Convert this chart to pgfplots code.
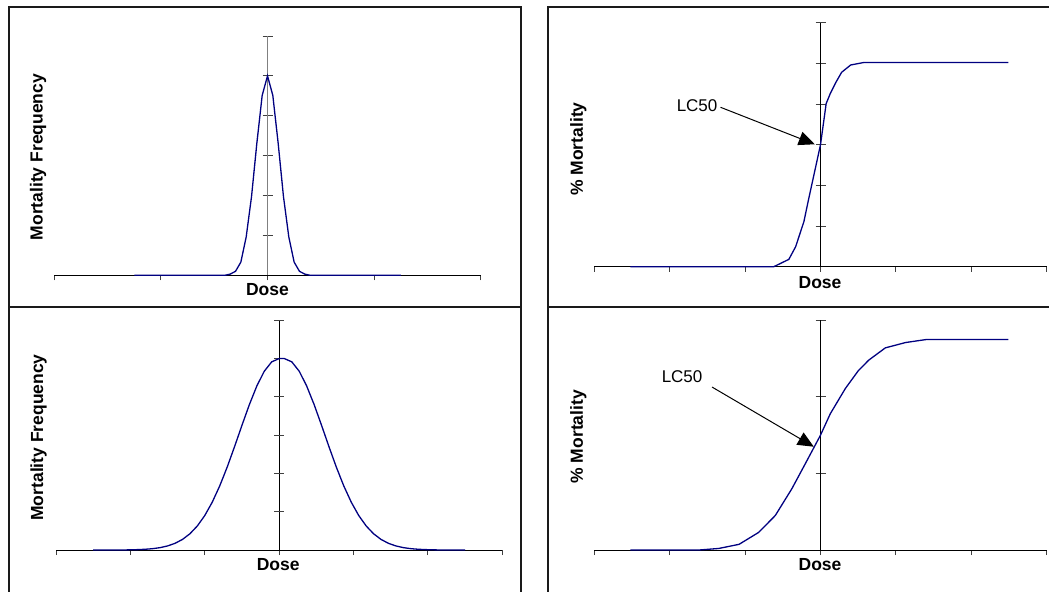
\documentclass[border=0pt]{standalone}
\usepackage{fontspec}
\setmainfont{Liberation Sans}
\usepackage{pgfplots}
\pgfplotsset{compat=1.18}
\usetikzlibrary{arrows.meta}
\definecolor{curveblue}{HTML}{000080}
\definecolor{frameline}{HTML}{1A1A1A}
\definecolor{tickgray}{HTML}{404040}
\newcommand{\lblfont}{\fontsize{17.5bp}{20bp}\selectfont\bfseries}
\newcommand{\lcfont}{\fontsize{17bp}{20bp}\selectfont}

\tikzset{lcarrow/.style={-{Triangle[length=16bp,width=14bp]}, line width=1bp}}

\pgfplotsset{
  dosepanel/.style={
    scale only axis,
    anchor=south west,
    axis x line=bottom,
    axis y line=middle,
    axis line style={-, black, line width=1bp},
    xticklabels={}, yticklabels={},
    extra y tick labels={},
    major tick length=5bp,
    xtick align=outside,
    ytick align=outside,
    extra y tick style={ytick align=inside},
    tick style={tickgray, line width=1bp},
    clip=false,
    every axis x label/.style={anchor=center, font=\lblfont},
    every axis y label/.style={rotate=90, anchor=center, font=\lblfont},
    xlabel={Dose},
  },
  dosecurve/.style={curveblue, line width=1.3bp, sharp plot, no marks},
}

\begin{document}
\begin{tikzpicture}
\path[use as bounding box] (0,0) rectangle (1049bp,592bp);

% panel frames
\begin{scope}
\clip (0,0) rectangle (1049bp,592bp);
\draw[frameline, line width=1.5bp] (9bp,-5bp) -- (9bp,585bp) -- (521bp,585bp) -- (521bp,-5bp);
\draw[frameline, line width=1.5bp] (9bp,285bp) -- (521bp,285bp);
\draw[frameline, line width=1.5bp] (548bp,-5bp) -- (548bp,585bp) -- (1060bp,585bp);
\draw[frameline, line width=1.5bp] (548bp,285bp) -- (1060bp,285bp);
\end{scope}

% top left: narrow distribution
\begin{axis}[dosepanel, at={(54.3bp,316.7bp)},
  width=426.4bp, height=239.3bp,
  xmin=-2, xmax=2, ymin=0, ymax=6,
  xtick={-2,-1,0,1,2}, ytick={1,2,3,4,5,6}, extra y ticks={1,2,3,4,5,6},
  y axis line style={gray},
  ylabel={Mortality Frequency},
  xlabel style={at={(axis description cs:0.5,-0.061)}},
  ylabel style={at={(axis description cs:-0.038,0.494)}}]
\addplot[dosecurve] coordinates {
  (-1.25,0) (-0.40,0) (-0.35,0.03) (-0.30,0.10) (-0.25,0.33) (-0.20,0.96)
  (-0.15,1.97) (-0.10,3.31) (-0.05,4.51) (0,5) (0.05,4.51) (0.10,3.31)
  (0.15,1.97) (0.20,0.96) (0.25,0.33) (0.30,0.10) (0.35,0.03) (0.40,0) (1.25,0)
};
\end{axis}

% bottom left: wide distribution
\begin{axis}[dosepanel, at={(56bp,42bp)},
  width=446.3bp, height=229.7bp,
  xmin=-3, xmax=3, ymin=0, ymax=6,
  xtick={-3,-2,-1,0,1,2,3}, ytick={1,2,3,4,5,6}, extra y ticks={1,2,3,4,5,6},
  ylabel={Mortality Frequency},
  xlabel style={at={(axis description cs:0.498,-0.062)}},
  ylabel style={at={(axis description cs:-0.039,0.49)}}]
\addplot[dosecurve] coordinates {
  (-2.5,0) (-2.1,0) (-2.0,0.005) (-1.9,0.010) (-1.8,0.019) (-1.7,0.035)
  (-1.6,0.062) (-1.5,0.106) (-1.4,0.174) (-1.3,0.276) (-1.2,0.423)
  (-1.1,0.628) (-1.0,0.900) (-0.9,1.247) (-0.8,1.669) (-0.7,2.158)
  (-0.6,2.697) (-0.5,3.257) (-0.4,3.800) (-0.3,4.285) (-0.2,4.669)
  (-0.1,4.915) (0,5) (0.07,5) (0.17,4.915) (0.27,4.669) (0.37,4.285)
  (0.47,3.800) (0.57,3.257) (0.67,2.697) (0.77,2.158) (0.87,1.669)
  (0.97,1.247) (1.07,0.900) (1.17,0.628) (1.27,0.423) (1.37,0.276)
  (1.47,0.174) (1.57,0.106) (1.67,0.062) (1.77,0.035) (1.87,0.019)
  (1.97,0.010) (2.07,0.005) (2.17,0) (2.5,0)
};
\end{axis}

% top right: steep dose-response
\begin{axis}[dosepanel, at={(594.3bp,325.3bp)},
  width=452.4bp, height=244bp,
  xmin=-3, xmax=3, ymin=0, ymax=6,
  xtick={-3,-2,-1,0,1,2,3}, ytick={1,2,3,4,5,6}, extra y ticks={1,2,3,4,5,6},
  ylabel={\% Mortality},
  xlabel style={at={(axis description cs:0.499,-0.066)}},
  ylabel style={at={(axis description cs:-0.035,0.482)}}]
\addplot[dosecurve] coordinates {
  (-2.52,0) (-0.62,0) (-0.42,0.18) (-0.33,0.49) (-0.22,1.11) (-0.16,1.64)
  (0,3.0) (0.075,4.01) (0.13,4.26) (0.20,4.52) (0.28,4.78) (0.40,4.96)
  (0.57,5.02) (2.49,5.02)
};
\node[font=\lcfont] at (axis cs:-1.637,3.95) {LC50};
\draw[lcarrow] (axis cs:-1.326,3.92) -- (axis cs:-0.076,3.01);
\end{axis}

% bottom right: shallow dose-response
\begin{axis}[dosepanel, at={(594.3bp,42bp)},
  width=452.4bp, height=229.7bp,
  xmin=-3, xmax=3, ymin=0, ymax=3,
  xtick={-3,-2,-1,0,1,2,3}, ytick={1,2,3}, extra y ticks={1,2,3},
  ylabel={\% Mortality},
  xlabel style={at={(axis description cs:0.499,-0.062)}},
  ylabel style={at={(axis description cs:-0.035,0.493)}}]
\addplot[dosecurve] coordinates {
  (-2.52,0) (-1.61,0) (-1.35,0.02) (-1.08,0.074) (-0.82,0.23) (-0.60,0.45)
  (-0.38,0.80) (-0.20,1.13) (0,1.50) (0.13,1.78) (0.33,2.11) (0.50,2.34)
  (0.64,2.48) (0.86,2.64) (1.13,2.71) (1.41,2.75) (2.49,2.75)
};
\node[font=\lcfont] at (axis cs:-1.836,2.262) {LC50};
\draw[lcarrow] (axis cs:-1.438,2.128) -- (axis cs:-0.089,1.349);
\end{axis}
\end{tikzpicture}
\end{document}
